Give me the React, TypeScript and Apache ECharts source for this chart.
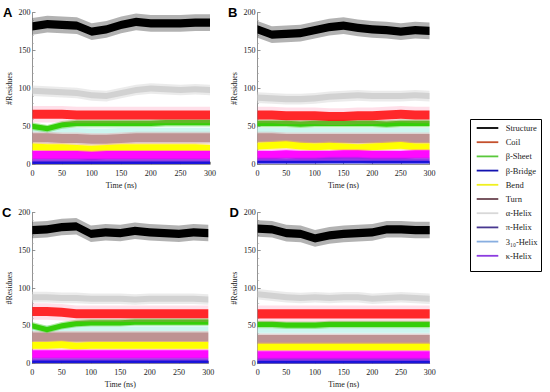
import React, { useEffect, useRef } from "react";
import * as echarts from "echarts";

const times = [0, 25, 50, 75, 100, 125, 150, 175, 200, 225, 250, 275, 300];
const xTicks = [0, 50, 100, 150, 200, 250, 300];
const yTicks = [0, 50, 100, 150, 200];
const panelLetters = ["A", "B", "C", "D"];
const legendNames = ["Structure", "Coil", "β-Sheet", "β-Bridge", "Bend", "Turn", "α-Helix", "π-Helix", "3₁₀-Helix", "κ-Helix"];

// Panel A (centre of each fluctuating trace, #residues)
const structA = [182, 185, 184, 183, 175, 178, 184, 188, 186, 186, 186, 187, 187];
const alphaA = [97, 96, 95, 94, 91, 90, 94, 98, 100, 99, 98, 99, 98];
const coilA = [66, 66, 66, 65, 65, 65, 65, 65, 65, 65, 65, 65, 65];
const sheetA = [50, 47, 52, 54, 54, 54, 54, 54, 54, 55, 55, 55, 55];
const h310A = [46, 45, 45, 45, 44, 44, 45, 45, 45, 45, 45, 45, 45];
const turnA = [35, 35, 34, 34, 33, 33, 34, 35, 35, 35, 35, 35, 35];
const bendA = [23, 22, 22, 21, 20, 21, 22, 22, 22, 22, 22, 22, 21];
const kappaA = [12, 12, 12, 12, 11, 12, 12, 12, 12, 12, 12, 12, 12];
const piA = [4, 4, 4, 4, 4, 4, 4, 4, 4, 4, 4, 4, 4];
const bridgeA = [2, 2, 2, 2, 2, 2, 2, 2, 2, 2, 2, 2, 2];

// Panel B
const structB = [178, 171, 172, 173, 177, 181, 183, 180, 178, 177, 175, 177, 176];
const alphaB = [88, 87, 86, 86, 87, 89, 90, 91, 90, 90, 90, 91, 90];
const coilB = [65, 65, 64, 64, 64, 63, 63, 64, 64, 65, 66, 65, 65];
const sheetB = [54, 54, 54, 53, 54, 54, 54, 54, 54, 53, 54, 54, 54];
const h310B = [45, 45, 45, 45, 45, 45, 45, 45, 45, 45, 45, 45, 45];
const turnB = [35, 35, 34, 34, 34, 34, 34, 34, 34, 34, 34, 34, 34];
const bendB = [24, 25, 26, 24, 23, 24, 23, 22, 23, 24, 25, 23, 23];
const kappaB = [12, 12, 13, 12, 12, 12, 13, 13, 12, 12, 12, 13, 13];
const piB = [5, 5, 5, 5, 5, 6, 6, 6, 5, 5, 5, 5, 5];
const bridgeB = [3, 3, 3, 3, 3, 3, 3, 3, 3, 3, 3, 3, 3];

// Panel C
const structC = [177, 178, 181, 182, 172, 174, 173, 176, 174, 173, 172, 174, 173];
const alphaC = [88, 88, 87, 87, 86, 86, 86, 85, 86, 86, 86, 86, 85];
const coilC = [69, 69, 68, 66, 66, 66, 66, 66, 66, 66, 66, 66, 66];
const sheetC = [50, 45, 50, 53, 54, 54, 54, 55, 55, 55, 55, 55, 55];
const h310C = [46, 46, 46, 46, 46, 46, 46, 46, 46, 46, 46, 46, 46];
const turnC = [35, 35, 35, 35, 35, 35, 35, 35, 35, 35, 35, 35, 35];
const bendC = [24, 24, 25, 23, 24, 24, 24, 24, 24, 24, 24, 24, 24];
const kappaC = [12, 12, 12, 12, 12, 12, 12, 12, 12, 12, 12, 12, 12];
const piC = [4, 4, 4, 4, 4, 4, 4, 4, 4, 4, 4, 4, 4];
const bridgeC = [2, 2, 2, 2, 2, 2, 2, 2, 2, 2, 2, 2, 2];

// Panel D
const structD = [179, 178, 173, 172, 166, 170, 172, 173, 174, 178, 178, 177, 177];
const alphaD = [92, 90, 88, 87, 88, 87, 88, 88, 86, 87, 88, 87, 86];
const coilD = [66, 66, 66, 66, 66, 66, 66, 66, 66, 66, 66, 66, 66];
const sheetD = [52, 52, 51, 51, 51, 52, 52, 52, 52, 52, 52, 52, 52];
const h310D = [44, 44, 44, 44, 44, 44, 44, 44, 44, 44, 44, 44, 44];
const turnD = [32, 32, 32, 32, 32, 32, 32, 32, 32, 32, 32, 32, 32];
const bendD = [22, 22, 22, 22, 22, 22, 22, 22, 22, 22, 22, 22, 22];
const kappaD = [11, 11, 11, 11, 11, 11, 11, 11, 11, 11, 11, 11, 11];
const piD = [4, 4, 4, 4, 4, 4, 4, 4, 4, 4, 4, 4, 4];
const bridgeD = [2, 2, 2, 2, 2, 2, 2, 2, 2, 2, 2, 2, 2];

// Half-width of the fluctuation of each trace: [core, outer fringe]
const spreadStruct = [5.5, 11];
const spreadAlpha = [4, 7];
const spreadCoil = [6, 11];
const spreadSheet = [3.5, 5];
const spread310 = [3, 5];
const spreadTurn = [6, 8];
const spreadBend = [4.5, 6];
const spreadKappa = [5.5, 7];
const spreadPi = [2.5, 4];
const spreadBridge = [1.5, 2.5];

const panelData = [
  { struct: structA, alpha: alphaA, coil: coilA, sheet: sheetA, h310: h310A, turn: turnA, bend: bendA, kappa: kappaA, pi: piA, bridge: bridgeA },
  { struct: structB, alpha: alphaB, coil: coilB, sheet: sheetB, h310: h310B, turn: turnB, bend: bendB, kappa: kappaB, pi: piB, bridge: bridgeB },
  { struct: structC, alpha: alphaC, coil: coilC, sheet: sheetC, h310: h310C, turn: turnC, bend: bendC, kappa: kappaC, pi: piC, bridge: bridgeC },
  { struct: structD, alpha: alphaD, coil: coilD, sheet: sheetD, h310: h310D, turn: turnD, bend: bendD, kappa: kappaD, pi: piD, bridge: bridgeD },
];

// drawing order (later = on top): key, legend name, spread, core colour, core opacity, fringe colour, fringe opacity
const traceStyles: any[] = [
  ["alpha", "α-Helix", spreadAlpha, "#d2d2d2", 1, "#dedede", 0.6],
  ["struct", "Structure", spreadStruct, "#000000", 1, "#000000", 0.3],
  ["h310", "3₁₀-Helix", spread310, "#bff3ec", 0.7, "#d8f8f4", 0.5],
  ["turn", "Turn", spreadTurn, "#bc8f8f", 0.95, "#c9a3a3", 0.45],
  ["sheet", "β-Sheet", spreadSheet, "#2ecc00", 0.95, "#50d030", 0.45],
  ["coil", "Coil", spreadCoil, "#ff0000", 0.82, "#ff6f9a", 0.22],
  ["bend", "Bend", spreadBend, "#ffff00", 1, "#ffc840", 0.4],
  ["kappa", "κ-Helix", spreadKappa, "#ff00ff", 0.95, "#ff40ff", 0.4],
  ["pi", "π-Helix", spreadPi, "#8a2be2", 0.85, "#8a2be2", 0.35],
  ["bridge", "β-Bridge", spreadBridge, "#1010d8", 0.9, "#1010d8", 0.35],
];

const legendColors: Record<string, string> = {
  "Structure": "#000000",
  "Coil": "#c4502c",
  "β-Sheet": "#5ac83c",
  "β-Bridge": "#1212b0",
  "Bend": "#f0f020",
  "Turn": "#6a4450",
  "α-Helix": "#d8d8d8",
  "π-Helix": "#483890",
  "3₁₀-Helix": "#88aee0",
  "κ-Helix": "#8c3ce0",
};

const grids = [
  { left: 32.5, top: 12.7, width: 177.5, height: 151.6 },
  { left: 257.5, top: 12.7, width: 172, height: 151.6 },
  { left: 32.3, top: 212.7, width: 176, height: 150.8 },
  { left: 257.7, top: 212.7, width: 172, height: 151 },
];
const letterPos = [
  { x: 3, y: 12.5 },
  { x: 228, y: 12.5 },
  { x: 2, y: 212.5 },
  { x: 229.5, y: 212 },
];

const FONT = "'Liberation Serif', 'Times New Roman', serif";

// Band polygon drawn through the axes' own scales (api.coord)
function bandRenderer(fill: string, opacity: number) {
  return (params: any, api: any) => {
    if (params.dataIndexInside !== 0) return null;
    const n = params.dataInsideLength;
    const upper: number[][] = [];
    const lower: number[][] = [];
    for (let i = 0; i < n; i++) {
      const t = api.value(0, i);
      upper.push(api.coord([t, api.value(2, i)]));
      lower.push(api.coord([t, api.value(1, i)]));
    }
    return {
      type: "polygon",
      shape: { points: upper.concat(lower.reverse()) },
      style: { fill, opacity },
    };
  };
}

function buildSeries() {
  const series: any[] = [];
  panelData.forEach((pd: any, p) => {
    traceStyles.forEach(([key, name, spread, cCore, oCore, cOut, oOut]) => {
      const centre: number[] = pd[key];
      const layers = [
        { w: spread[1], color: cOut, op: oOut, nm: name + " fringe" },
        { w: spread[0], color: cCore, op: oCore, nm: name },
      ];
      layers.forEach((ly) => {
        series.push({
          type: "custom",
          name: ly.nm,
          xAxisIndex: p,
          yAxisIndex: p,
          silent: true,
          clip: true,
          color: ly.color,
          encode: { x: 0, y: [1, 2] },
          renderItem: bandRenderer(ly.color, ly.op),
          data: times.map((t, i) => [t, Math.max(0, centre[i] - ly.w), centre[i] + ly.w]),
        });
      });
    });
  });
  return series;
}

export default function App() {
  const ref = useRef<HTMLDivElement>(null);
  useEffect(() => {
    if (!ref.current) return;
    const chart = echarts.init(ref.current, undefined, { renderer: "svg" });
    const axisLabel = { fontFamily: FONT, fontSize: 8, color: "#222" };
    const option: any = {
      animation: false,
      backgroundColor: "#ffffff",
      grid: grids.map((g) => ({ ...g, containLabel: false })),
      xAxis: grids.map((_, i) => ({
        type: "value",
        gridIndex: i,
        min: xTicks[0],
        max: xTicks[xTicks.length - 1],
        interval: 50,
        name: "Time (ns)",
        nameLocation: "middle",
        nameGap: 17,
        nameTextStyle: { fontFamily: FONT, fontSize: 8, color: "#222" },
        axisLine: { show: true, lineStyle: { color: "#777", width: 0.8 } },
        axisTick: { show: true, inside: true, length: 2.5, lineStyle: { color: "#777", width: 0.8 } },
        axisLabel: { ...axisLabel, margin: 5 },
        splitLine: { show: false },
      })),
      yAxis: grids.map((_, i) => ({
        type: "value",
        gridIndex: i,
        min: yTicks[0],
        max: yTicks[yTicks.length - 1],
        interval: 50,
        name: "#Residues",
        nameLocation: "middle",
        nameGap: 19,
        nameRotate: 90,
        nameTextStyle: { fontFamily: FONT, fontSize: 8, color: "#222" },
        axisLine: { show: true, lineStyle: { color: "#777", width: 0.8 } },
        axisTick: { show: true, inside: true, length: 3, lineStyle: { color: "#777", width: 0.8 } },
        minorTick: { show: true, splitNumber: 5, length: 1.5, lineStyle: { color: "#aaa", width: 0.6 } },
        axisLabel: { ...axisLabel, margin: 2 },
        splitLine: { show: false },
      })),
      legend: {
        orient: "vertical",
        left: 476.7,
        top: 123,
        padding: 0,
        itemGap: 4.2,
        itemWidth: 24,
        itemHeight: 10,
        selectedMode: false,
        textStyle: { fontFamily: FONT, fontSize: 8.5, color: "#222", lineHeight: 10 },
        data: legendNames.map((n) => ({
          name: n,
          icon: "path://M0,0 M24,10 M0,4.1 L21.6,4.1 L21.6,5.9 L0,5.9 Z",
          itemStyle: { color: legendColors[n], borderWidth: 0, opacity: 1 },
        })),
      },
      graphic: [
        {
          type: "rect",
          shape: { x: 470.5, y: 119.5, width: 71, height: 152 },
          style: { fill: "none", stroke: "#000", lineWidth: 1 },
          silent: true,
        },
        ...panelLetters.map((l, i) => ({
          type: "text",
          x: letterPos[i].x,
          y: letterPos[i].y,
          style: {
            text: l,
            fontFamily: "'Liberation Sans', Arial, sans-serif",
            fontWeight: "bold",
            fontSize: 13,
            fill: "#000",
            verticalAlign: "middle",
            align: "left",
          },
          silent: true,
        })),
      ],
      series: buildSeries(),
    };
    chart.setOption(option);
    return () => chart.dispose();
  }, []);
  return (
    <div
      ref={ref}
      style={{ position: "fixed", left: 0, top: 0, width: 550, height: 392, background: "#fff" }}
    />
  );
}
